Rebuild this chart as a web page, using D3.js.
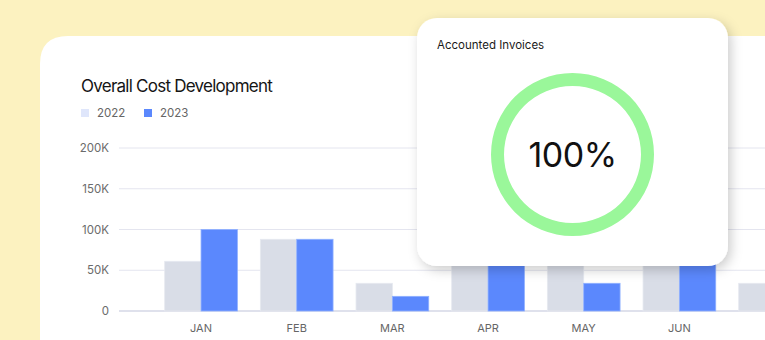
<!DOCTYPE html>
<html>
<head>
<meta charset="utf-8">
<script src="https://cdn.jsdelivr.net/npm/d3@7"></script>
<style>
  html, body { margin: 0; padding: 0; background: #fcf2c0; }
  svg { display: block; font-family: Inter, "Noto Sans", sans-serif; }
</style>
</head>
<body>
<svg id="chart" width="765" height="340"></svg>
<script>
// chart data
var months = ["JAN", "FEB", "MAR", "APR", "MAY", "JUN", "JUL"];
var years = ["2022", "2023"];
var cost2022 = [61000, 88000, 34000, 82000, 76000, 78000, 34000];
var cost2023 = [100000, 88000, 18000, 96000, 34000, 102000, 60000];
var yTicks = [0, 50000, 100000, 150000, 200000];
var yTickLabels = ["0", "50K", "100K", "150K", "200K"];
var accounted = [100]; // percent

var colors = { "2022": "#d9dde7", "2023": "#5b88fd" };

var svg = d3.select("#chart");

// background
svg.append("rect").attr("width", 765).attr("height", 340).attr("fill", "#fcf2c0");

// main card (rounded top-left corner, runs off right/bottom)
svg.append("path")
    .attr("d", "M40,340 L40,64 Q40,36 68,36 L765,36 L765,340 Z")
    .attr("fill", "#fff");

svg.append("text")
    .attr("x", 81).attr("y", 92)
    .attr("font-size", 17).attr("fill", "#151515")
    .attr("letter-spacing", "-0.75px")
    .text("Overall Cost Development");

// legend
var legend = svg.append("g").selectAll("g")
    .data(years)
    .enter().append("g")
    .attr("transform", function (d, i) { return "translate(" + (81 + i * 63) + ",109)"; });
legend.append("rect")
    .attr("width", 8).attr("height", 8)
    .attr("fill", function (d) { return d == "2022" ? "#dfe6fb" : colors[d]; });
legend.append("text")
    .attr("x", 16).attr("y", 8)
    .attr("font-size", 11.5).attr("fill", "#666")
    .text(function (d) { return d; });

// scales
var y = d3.scaleLinear().domain([0, 200000]).range([311, 148]);
var step = 95.67;
var x0 = d3.scaleBand().domain(months)
    .range([153.2, 153.2 + step * months.length])
    .paddingInner(0.24).paddingOuter(0.12);
var x1 = d3.scaleBand().domain(years).range([0, x0.bandwidth()]);

// grid + y labels
var grid = svg.append("g");
grid.selectAll("line")
    .data(yTicks)
    .enter().append("line")
    .attr("x1", 119).attr("x2", 765)
    .attr("y1", function (d) { return y(d); })
    .attr("y2", function (d) { return y(d); })
    .attr("stroke", function (d) { return d == 0 ? "#d4d7e6" : "#e4e5ef"; })
    .attr("stroke-width", function (d) { return d == 0 ? 1.5 : 1; });
grid.selectAll("text")
    .data(yTicks)
    .enter().append("text")
    .attr("x", 109)
    .attr("y", function (d) { return y(d) + 4; })
    .attr("text-anchor", "end")
    .attr("font-size", 11.5).attr("fill", "#6b6b6b")
    .text(function (d, i) { return yTickLabels[i]; });

// bars
var rows = months.map(function (m, i) {
    return { month: m, values: [{ year: "2022", v: cost2022[i] }, { year: "2023", v: cost2023[i] }] };
});
var group = svg.append("g").selectAll("g")
    .data(rows)
    .enter().append("g")
    .attr("transform", function (d) { return "translate(" + x0(d.month) + ",0)"; });
group.selectAll("rect")
    .data(function (d) { return d.values; })
    .enter().append("rect")
    .attr("x", function (d) { return x1(d.year); })
    .attr("y", function (d) { return y(d.v); })
    .attr("width", x1.bandwidth())
    .attr("height", function (d) { return y(0) - y(d.v); })
    .attr("fill", function (d) { return colors[d.year]; })
    .attr("stroke", function (d) { return d.year == "2023" ? "#8fb0ff" : "#e6e9f0"; })
    .attr("stroke-width", 0.8);

// month labels (only those inside the visible area)
svg.append("g").selectAll("text")
    .data(months.filter(function (d) { return x0(d) + x0.bandwidth() / 2 < 750; }))
    .enter().append("text")
    .attr("x", function (d) { return x0(d) + x0.bandwidth() / 2; })
    .attr("y", 332)
    .attr("text-anchor", "middle")
    .attr("font-size", 11).attr("fill", "#666")
    .text(function (d) { return d; });

// overlay card
var defs = svg.append("defs");
var f = defs.append("filter").attr("id", "shadow")
    .attr("x", "-20%").attr("y", "-20%").attr("width", "140%").attr("height", "140%");
f.append("feDropShadow")
    .attr("dx", 3).attr("dy", 4).attr("stdDeviation", 6)
    .attr("flood-color", "#000").attr("flood-opacity", 0.2);

var card = svg.append("g");
card.append("rect")
    .attr("x", 417).attr("y", 18)
    .attr("width", 311).attr("height", 248)
    .attr("rx", 20)
    .attr("fill", "#fff")
    .attr("filter", "url(#shadow)");
card.append("text")
    .attr("x", 437).attr("y", 49)
    .attr("font-size", 11.5).attr("fill", "#1a1a1a")
    .text("Accounted Invoices");

var arc = d3.arc().innerRadius(68.5).outerRadius(81.5);
var ring = card.append("g").attr("transform", "translate(572.5,154.5)");
ring.selectAll("path")
    .data(accounted)
    .enter().append("path")
    .attr("d", function (d) { return arc({ startAngle: 0, endAngle: 2 * Math.PI * d / 100 }); })
    .attr("fill", "#9af79a");
ring.append("text")
    .attr("y", 12)
    .attr("text-anchor", "middle")
    .attr("font-size", 34).attr("fill", "#111")
    .attr("letter-spacing", "-0.5px")
    .text(accounted[0] + "%");
</script>
</body>
</html>
